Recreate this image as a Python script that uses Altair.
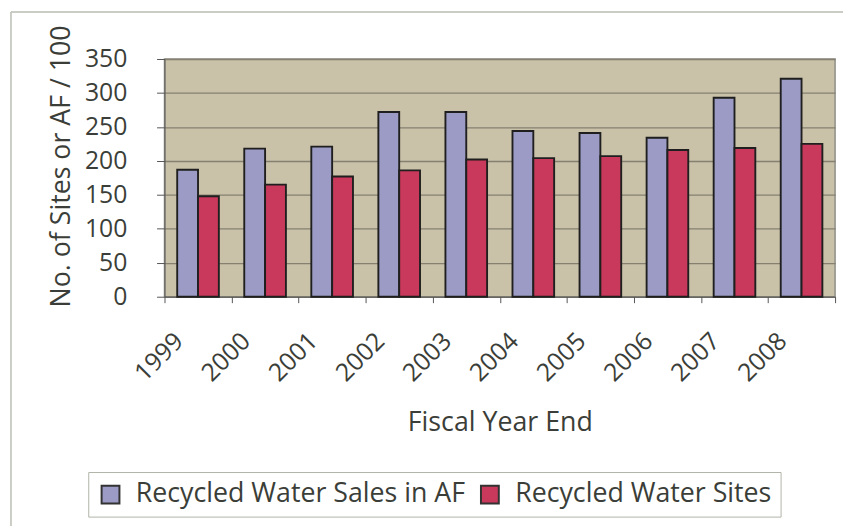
import altair as alt
import pandas as pd

years = ["1999", "2000", "2001", "2002", "2003", "2004", "2005", "2006", "2007", "2008"]
sales_af = [187, 218, 221, 272, 272, 244, 241, 234, 293, 321]
sites = [148, 165, 177, 186, 202, 204, 207, 216, 219, 225]
series_names = ["Recycled Water Sales in AF", "Recycled Water Sites"]
series_colors = ["#9b9bc5", "#c8395b"]
y_ticks = [0, 50, 100, 150, 200, 250, 300, 350]

rows = []
for yr, a, s in zip(years, sales_af, sites):
    rows.append({"year": yr, "series": series_names[0], "value": a})
    rows.append({"year": yr, "series": series_names[1], "value": s})
df = pd.DataFrame(rows)

FONT = "Open Sans"
TEXT = "#3b3e38"

bars = alt.Chart(df).mark_bar(stroke="#1f1f1f", strokeWidth=1.9).encode(
    x=alt.X(
        "year:N",
        sort=years,
        scale=alt.Scale(paddingInner=0, paddingOuter=0),
        axis=alt.Axis(
            title="Fiscal Year End",
            labelAngle=-45,
            labelOffset=-28,
            labelPadding=25.7,
            tickSize=6,
            tickBand="extent",
            tickColor="#555555",
            domainColor="#555555",
            labelFontSize=25,
            titleFontSize=27,
            titleBaseline="alphabetic",
            titleY=134.7,
            grid=False,
        ),
    ),
    xOffset=alt.XOffset(
        "series:N", sort=series_names, scale=alt.Scale(paddingInner=0, paddingOuter=0.61)
    ),
    y=alt.Y(
        "value:Q",
        scale=alt.Scale(domain=[0, 350], nice=False),
        axis=alt.Axis(
            values=y_ticks,
            title="No. of Sites or AF / 100",
            labelPadding=30,
            tickSize=8,
            tickColor="#555555",
            domainColor="#555555",
            labelFontSize=25,
            titleFontSize=27,
            titleX=-96,
            titleY=108,
            titleBaseline="alphabetic",
            titleAngle=270,
            gridColor="#858070",
            gridWidth=1.3,
        ),
    ),
    color=alt.Color(
        "series:N",
        sort=series_names,
        scale=alt.Scale(domain=series_names, range=series_colors),
        legend=alt.Legend(
            orient="none",
            legendX=-77,
            legendY=417,
            direction="horizontal",
            title=None,
            symbolType="square",
            symbolSize=324,
            symbolStrokeColor="#333333",
            symbolStrokeWidth=2,
            labelFontSize=27,
            labelOffset=12,
            columnPadding=11,
            padding=9,
            strokeColor="#b0b4a8",
            fillColor="white",
            labelLimit=600,
            labelColor=TEXT,
            labelFont=FONT,
        ),
    ),
)

frame_df = pd.DataFrame({"k": [0]})
frame_left = alt.Chart(frame_df).mark_rule(color="#b9bdb2", strokeWidth=1.5).encode(
    x=alt.value(-155), y=alt.value(-47.5), y2=alt.value(480)
)
frame_top = alt.Chart(frame_df).mark_rule(color="#b9bdb2", strokeWidth=1.5).encode(
    x=alt.value(-155), x2=alt.value(700), y=alt.value(-47.5)
)

chart = (
    alt.layer(bars, frame_left, frame_top)
    .properties(
        width=677,
        height=240,
        autosize=alt.AutoSizeParams(type="none"),
        padding={"left": 158, "top": 49, "right": 8, "bottom": 229},
        background="white",
    )
    .configure_view(fill="#c9c1a8", stroke="#8e8e86", strokeWidth=1.5)
    .configure_axis(
        labelFont=FONT,
        titleFont=FONT,
        labelColor=TEXT,
        titleColor=TEXT,
        titleFontWeight="normal",
    )
)

chart.save("out.html", embed_options={"renderer": "svg", "actions": False})
